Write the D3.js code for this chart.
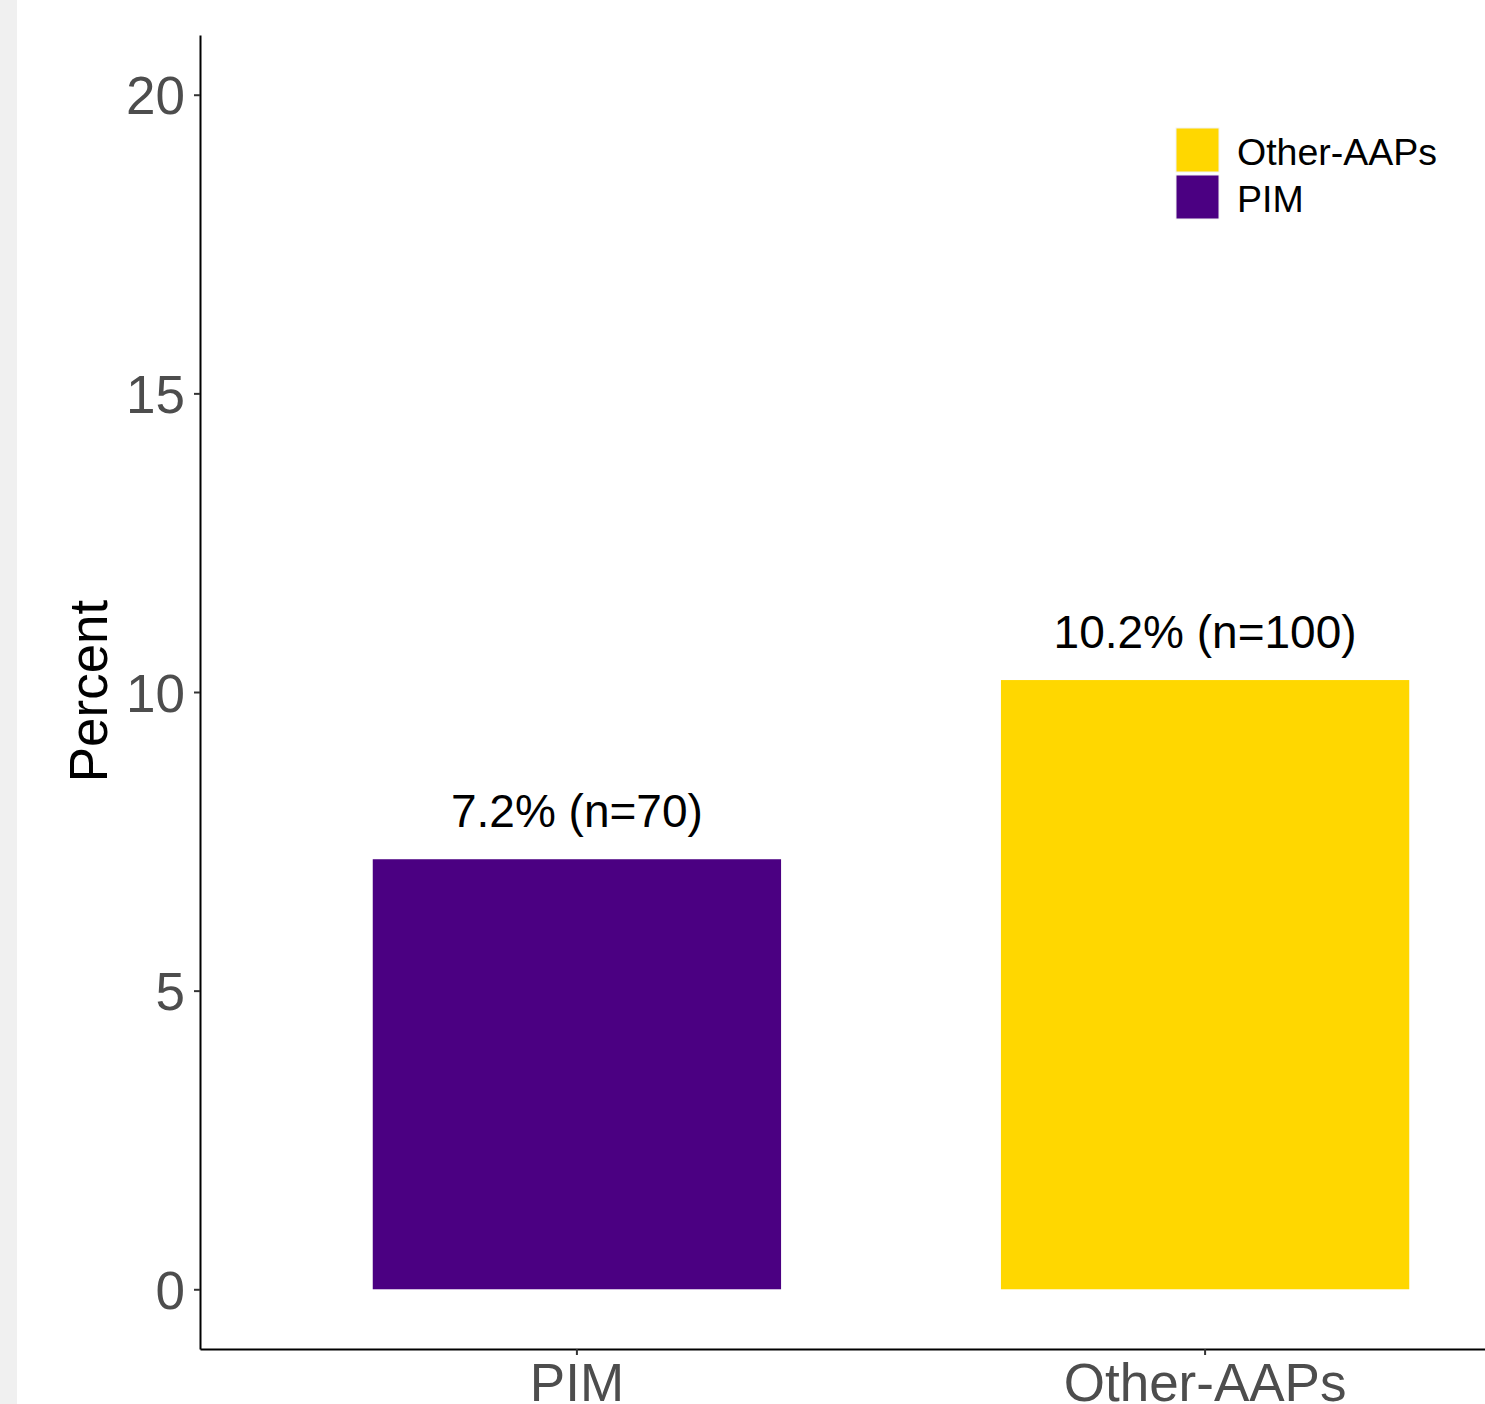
<!DOCTYPE html>
<html>
<head>
<meta charset="utf-8">
<script src="https://cdn.jsdelivr.net/npm/d3@7"></script>
<style>
  html, body { margin: 0; padding: 0; background: #ffffff; }
  svg { display: block; }
  text { font-family: "Liberation Sans", Arial, sans-serif; }
</style>
</head>
<body>
<script>
const categories = ["PIM", "Other-AAPs"];
const values = [7.2, 10.2];
const counts = [70, 100];
const colors = ["#4B0082", "#FFD700"];
const yTicks = [0, 5, 10, 15, 20];
const legendOrder = ["Other-AAPs", "PIM"];

const W = 1485, H = 1404;
const svg = d3.select("body").append("svg").attr("width", W).attr("height", H);

// left grey strip
svg.append("rect").attr("x", 0).attr("y", 0).attr("width", 17).attr("height", H).attr("fill", "#f0f0f0");

const x = d3.scaleBand().domain(categories).range([200, 1582]).paddingInner(0.35).paddingOuter(0.275);
const y = d3.scaleLinear().domain([-1, 21]).range([1349, 35]);
const color = d3.scaleOrdinal().domain(categories).range(colors);

// bars
svg.selectAll("rect.bar").data(categories).enter().append("rect")
  .attr("class", "bar")
  .attr("x", d => x(d))
  .attr("width", x.bandwidth())
  .attr("y", (d, i) => y(values[i]))
  .attr("height", (d, i) => y(0) - y(values[i]))
  .attr("fill", d => color(d));

// bar labels
svg.selectAll("text.lbl").data(categories).enter().append("text")
  .attr("class", "lbl")
  .attr("x", d => x(d) + x.bandwidth() / 2)
  .attr("y", (d, i) => y(values[i]) - 32)
  .attr("text-anchor", "middle")
  .attr("font-size", 46)
  .attr("fill", "#000")
  .text((d, i) => `${values[i].toFixed(1)}% (n=${counts[i]})`);

// y axis
const yAxis = svg.append("g").attr("transform", "translate(200,0)")
  .call(d3.axisLeft(y).tickValues(yTicks).tickSize(6).tickPadding(9).tickSizeOuter(0));
yAxis.select(".domain").attr("stroke", "#000").attr("stroke-width", 2);
yAxis.selectAll(".tick line").attr("stroke", "#333").attr("stroke-width", 2);
yAxis.selectAll(".tick text").attr("font-size", 53).attr("fill", "#4d4d4d")
  .attr("font-family", "Liberation Sans, Arial, sans-serif").attr("dy", "0.36em");

// x axis
const xAxis = svg.append("g").attr("transform", "translate(0,1349)")
  .call(d3.axisBottom(x).tickSize(6).tickPadding(8).tickSizeOuter(0));
xAxis.select(".domain").attr("stroke", "#000").attr("stroke-width", 2);
xAxis.selectAll(".tick line").attr("stroke", "#333").attr("stroke-width", 2);
xAxis.selectAll(".tick text").attr("font-size", 53).attr("fill", "#4d4d4d")
  .attr("font-family", "Liberation Sans, Arial, sans-serif").attr("dy", "0.71em");

// y title
svg.append("text")
  .attr("transform", "translate(107,691) rotate(-90)")
  .attr("text-anchor", "middle")
  .attr("font-size", 53)
  .attr("fill", "#000")
  .text("Percent");

// legend
const leg = svg.append("g").attr("transform", "translate(1176,128)");
legendOrder.forEach((c, i) => {
  leg.append("rect").attr("x", 0).attr("y", i * 47).attr("width", 43).attr("height", 44)
    .attr("fill", color(c)).attr("stroke", "#f2f2f2").attr("stroke-width", 1);
  leg.append("text").attr("x", 61).attr("y", i * 47 + 37)
    .attr("font-size", 37.5).attr("fill", "#000").text(c);
});
</script>
</body>
</html>
